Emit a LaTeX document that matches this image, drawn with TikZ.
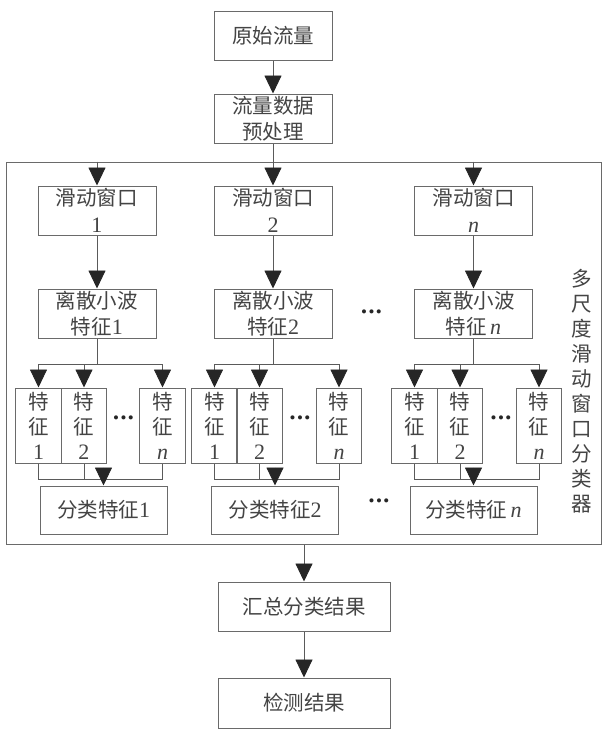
\documentclass[tikz,border=0pt]{standalone}
\usepackage{fontspec}
\setmainfont{Liberation Serif}
\newfontfamily\cjk{Noto Sans CJK SC}
\usetikzlibrary{arrows.meta}
\definecolor{linec}{HTML}{5A5A5A}
\definecolor{boxc}{HTML}{6A6A6A}
\definecolor{headc}{HTML}{262626}
\definecolor{textc}{HTML}{444444}
\newcommand\dg[1]{{\rmfamily\fontsize{22}{22}\selectfont #1}}
\newcommand\nI{{\rmfamily\itshape\fontsize{22}{22}\selectfont n}}
\begin{document}
\begin{tikzpicture}[x=1pt,y=-1pt,
  box/.style={draw=boxc, line width=1pt, inner sep=0pt, align=center, text=textc,
    font=\cjk\fontsize{20.5}{26.5}\selectfont},
  wbox/.style={box, minimum width=118pt, minimum height=49pt},
  fbox/.style={box, minimum width=45.5pt, minimum height=75pt, font=\cjk\fontsize{20.5}{25}\selectfont},
  cbox/.style={box, minimum width=127pt, minimum height=48pt},
  bbox/.style={box, minimum width=172pt, minimum height=49pt},
  ln/.style={draw=linec, line width=0.9pt},
  arr/.style={ln, -{Triangle[width=17pt,length=18pt,color=headc]}},
  dots/.style={inner sep=0pt, text=headc, font=\rmfamily\fontsize{17}{17}\selectfont}
]
\useasboundingbox (0,0) rectangle (603,732);
\fill[white] (0,0) rectangle (603,732);

% outer frame
\node[draw=boxc, line width=1pt, minimum width=595pt, minimum height=382pt, inner sep=0pt] (outer) at (303.5,353) {};
\node[inner sep=0pt, align=center, text=textc, font=\cjk\fontsize{20.5}{25}\selectfont] (lbl) at (582,391.5)
  {多\\尺\\度\\滑\\动\\窗\\口\\分\\类\\器};

% top
\node[wbox] (raw) at (273,35.5) {原始流量};
\node[wbox] (pre) at (273,118.5) {流量数据\\预处理};

% windows
\node[wbox] (w1) at (97,210.5) {滑动窗口\\\dg{1}};
\node[wbox] (w2) at (273,210.5) {滑动窗口\\\dg{2}};
\node[wbox] (wn) at (473.5,210.5) {滑动窗口\\\nI};

% wavelet
\node[wbox] (d1) at (97,313.5) {离散小波\\特征\dg{1}};
\node[wbox] (d2) at (273,313.5) {离散小波\\特征\dg{2}};
\node[wbox] (dn) at (473.5,313.5) {离散小波\\特征\,\nI};
\node[dots] (dd) at (371.5,314) {•\hspace{1.5pt}•\hspace{1.5pt}•};

% features
\node[fbox] (f11) at (38.5,425.5) {特\\征\\\dg{1}};
\node[fbox] (f12) at (84,425.5) {特\\征\\\dg{2}};
\node[fbox] (f1n) at (162.5,425.5) {特\\征\\\nI};
\node[dots] (fd1) at (123.5,420) {•\hspace{1.5pt}•\hspace{1.5pt}•};

\node[fbox] (f21) at (214.5,425.5) {特\\征\\\dg{1}};
\node[fbox] (f22) at (259.5,425.5) {特\\征\\\dg{2}};
\node[fbox] (f2n) at (339,425.5) {特\\征\\\nI};
\node[dots] (fd2) at (300,420) {•\hspace{1.5pt}•\hspace{1.5pt}•};

\node[fbox] (fn1) at (414.5,425.5) {特\\征\\\dg{1}};
\node[fbox] (fn2) at (460,425.5) {特\\征\\\dg{2}};
\node[fbox] (fnn) at (539,425.5) {特\\征\\\nI};
\node[dots] (fdn) at (501,420) {•\hspace{1.5pt}•\hspace{1.5pt}•};

% classification features
\node[cbox] (c1) at (103.5,510) {分类特征\dg{1}};
\node[cbox] (c2) at (275,510) {分类特征\dg{2}};
\node[cbox] (cn) at (473.5,510) {分类特征\,\nI};
\node[dots] (cd) at (379,503) {•\hspace{1.5pt}•\hspace{1.5pt}•};

% bottom
\node[bbox] (sum) at (304,606.5) {汇总分类结果};
\node[bbox, minimum height=50pt] (det) at (304,703) {检测结果};

% connectors top
\draw[arr] (raw.south) -- (pre.north);
\draw[arr] (pre.south) -- (w2.north);
\draw[arr] (w1.north |- outer.north) -- (w1.north);
\draw[arr] (wn.north |- outer.north) -- (wn.north);
\draw[arr] (w1.south) -- (d1.north);
\draw[arr] (w2.south) -- (d2.north);
\draw[arr] (wn.south) -- (dn.north);

% distribution lines
\coordinate (h) at (0,364);
\coordinate (b) at (0,479);
\foreach \g in {1,2,n}{
  \draw[ln] (d\g.south) -- (d\g.south |- h);
  \draw[ln] (f\g1.north |- h) -- (f\g n.north |- h);
  \draw[arr] (f\g1.north |- h) -- (f\g1.north);
  \draw[arr] (f\g2.north |- h) -- (f\g2.north);
  \draw[arr] (f\g n.north |- h) -- (f\g n.north);
  \draw[ln] (f\g1.south) -- (f\g1.south |- b) -- (f\g n.south |- b) -- (f\g n.south);
  \draw[ln] (f\g2.south) -- (f\g2.south |- b);
  \draw[arr] ([yshift=18pt]c\g.north) -- (c\g.north);
}

% bottom connectors
\draw[arr] (sum.north |- outer.south) -- (sum.north);
\draw[arr] (sum.south) -- (det.north);
\end{tikzpicture}
\end{document}
